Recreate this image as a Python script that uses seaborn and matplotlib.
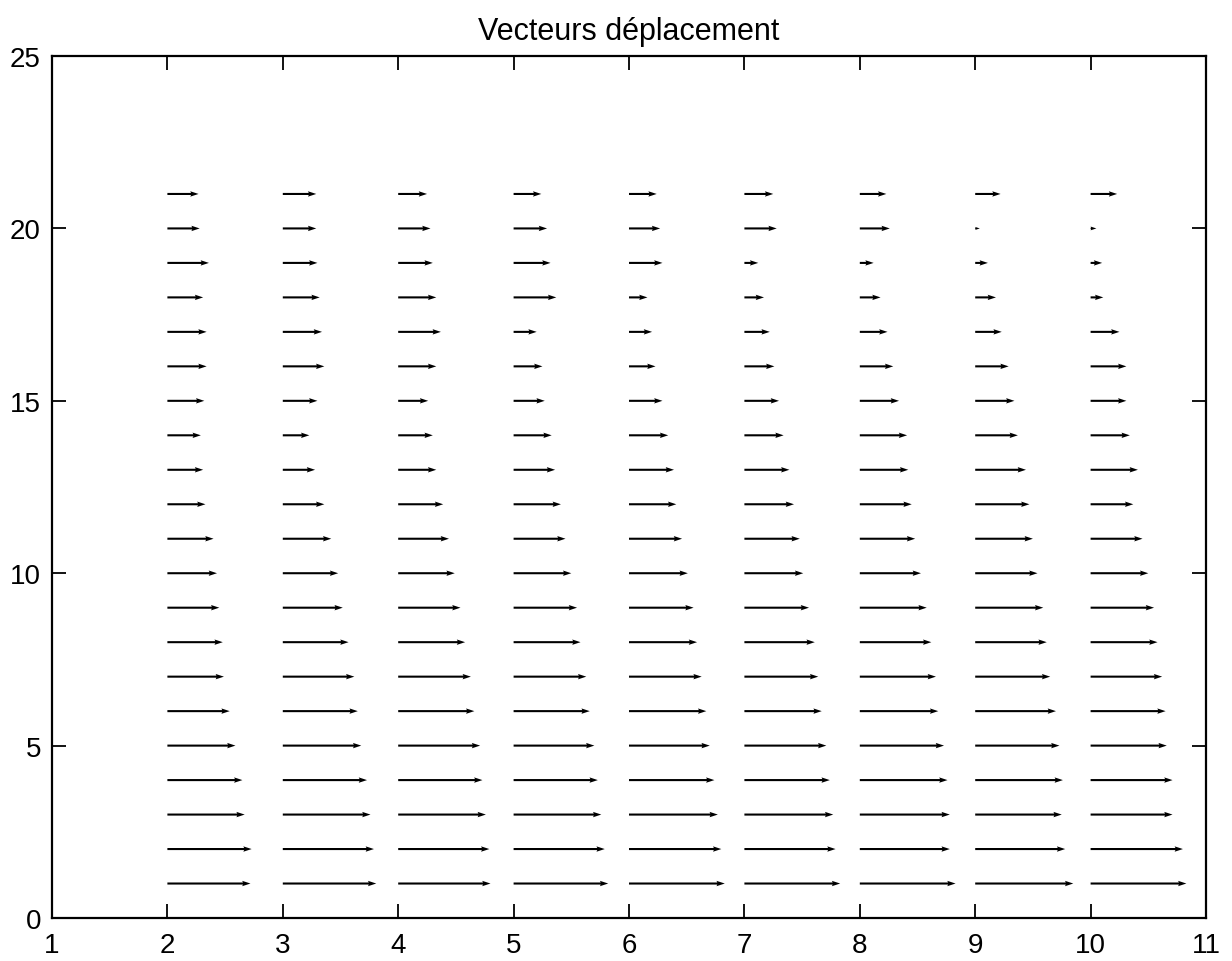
import numpy as np
import pandas as pd
import matplotlib
matplotlib.use("Agg")
import matplotlib.pyplot as plt
import seaborn as sns

# grid of the displacement field
x_cols = [2, 3, 4, 5, 6, 7, 8, 9, 10]
y_rows = list(range(1, 22))

# horizontal displacement, one list per column (y = 1 .. 21)
u_x2 = [0.72, 0.73, 0.67, 0.65, 0.59, 0.54, 0.49, 0.48, 0.45, 0.43, 0.40, 0.33, 0.31, 0.29, 0.32, 0.34, 0.34, 0.31, 0.36, 0.28, 0.27]
u_x3 = [0.81, 0.79, 0.76, 0.73, 0.68, 0.65, 0.62, 0.57, 0.52, 0.48, 0.42, 0.36, 0.28, 0.23, 0.30, 0.36, 0.34, 0.32, 0.30, 0.29, 0.29]
u_x4 = [0.80, 0.79, 0.76, 0.73, 0.71, 0.66, 0.63, 0.58, 0.54, 0.49, 0.44, 0.39, 0.33, 0.30, 0.26, 0.33, 0.37, 0.33, 0.30, 0.28, 0.25]
u_x5 = [0.82, 0.79, 0.76, 0.73, 0.70, 0.66, 0.63, 0.58, 0.55, 0.50, 0.45, 0.41, 0.36, 0.33, 0.27, 0.25, 0.20, 0.37, 0.32, 0.29, 0.24]
u_x6 = [0.83, 0.80, 0.77, 0.74, 0.70, 0.67, 0.63, 0.59, 0.56, 0.51, 0.46, 0.41, 0.39, 0.34, 0.29, 0.23, 0.20, 0.16, 0.29, 0.27, 0.24]
u_x7 = [0.83, 0.79, 0.77, 0.74, 0.71, 0.67, 0.64, 0.61, 0.56, 0.51, 0.48, 0.43, 0.39, 0.34, 0.30, 0.26, 0.22, 0.17, 0.12, 0.28, 0.25]
u_x8 = [0.83, 0.78, 0.78, 0.76, 0.73, 0.68, 0.66, 0.62, 0.58, 0.53, 0.48, 0.45, 0.42, 0.41, 0.34, 0.29, 0.24, 0.18, 0.12, 0.26, 0.23]
u_x9 = [0.85, 0.78, 0.75, 0.76, 0.73, 0.70, 0.65, 0.62, 0.59, 0.54, 0.50, 0.47, 0.44, 0.37, 0.34, 0.29, 0.23, 0.18, 0.11, 0.04, 0.22]
u_x10 = [0.83, 0.80, 0.71, 0.71, 0.66, 0.65, 0.62, 0.58, 0.55, 0.50, 0.45, 0.37, 0.41, 0.34, 0.31, 0.31, 0.25, 0.11, 0.10, 0.05, 0.23]

u_cols = [u_x2, u_x3, u_x4, u_x5, u_x6, u_x7, u_x8, u_x9, u_x10]

rows = []
for xc, us in zip(x_cols, u_cols):
    for yr, u in zip(y_rows, us):
        rows.append({"x": xc, "y": yr, "u": u, "v": 0.0})
df = pd.DataFrame(rows)

sns.set_theme(style="ticks")
plt.rcParams["font.family"] = ["Liberation Sans", "DejaVu Sans"]
plt.rcParams["text.color"] = "black"

fig = plt.figure(figsize=(12.32, 9.62), dpi=100)
ax = fig.add_axes([0.0422, 0.0447, 0.9367, 0.896])

ax.quiver(df["x"], df["y"], df["u"], df["v"],
          angles="xy", scale_units="xy", scale=1,
          color="black", width=0.0018,
          headwidth=2.6, headlength=4.0, headaxislength=3.6)

ax.set_xlim(1, 11)
ax.set_ylim(0, 25)
ax.set_xticks(range(1, 12))
ax.set_yticks([0, 5, 10, 15, 20, 25])
ax.tick_params(direction="in", length=10, width=1.3, labelsize=20,
               top=True, right=True, colors="black")
ax.tick_params(axis="x", pad=10)
ax.tick_params(axis="y", pad=8)
for s in ax.spines.values():
    s.set_linewidth(1.6)
    s.set_color("black")

ax.set_title("Vecteurs déplacement", fontsize=22, pad=12, color="black")

fig.savefig("out.png", dpi=100, facecolor="white")
